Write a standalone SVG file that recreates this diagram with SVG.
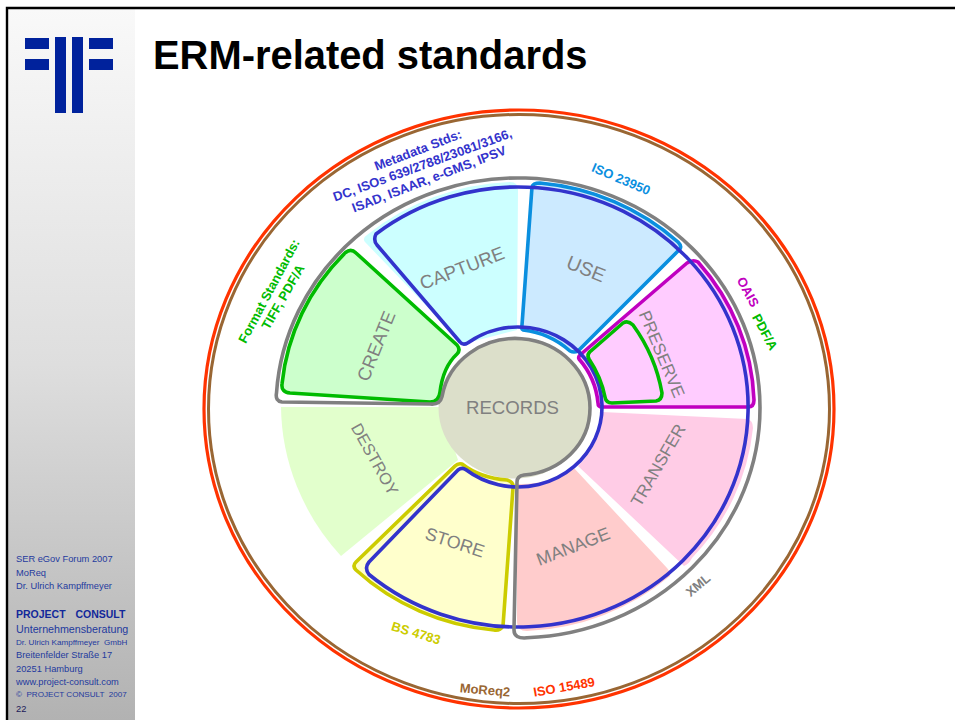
<svg xmlns="http://www.w3.org/2000/svg" width="955" height="720" viewBox="0 0 955 720">
<style>
text{font-family:"Liberation Sans",Arial,sans-serif}
.w{font-size:17.8px;fill:#808080;text-anchor:middle}
.b{font-size:13px;font-weight:bold;text-anchor:middle}
.s{font-size:9.3px;fill:#1f3a9e}
.o{fill:none;stroke-width:3.6;stroke-linejoin:round}
</style>
<defs><linearGradient id="g" x1="0" y1="0" x2="0" y2="1"><stop offset="0" stop-color="#f9f9f9"/><stop offset="0.5" stop-color="#dedede"/><stop offset="1" stop-color="#b2b2b2"/></linearGradient></defs>
<rect width="955" height="720" fill="#fff"/>
<g id="sidebar">
<rect x="8" y="9" width="127" height="711" fill="url(#g)"/>
<path d="M7,720V8H955" fill="none" stroke="#000" stroke-width="2.4"/>
<g fill="#00229c"><rect x="25" y="38" width="24" height="11"/><rect x="25" y="59" width="24" height="11"/><rect x="55" y="37" width="11" height="76"/><rect x="72" y="37" width="11" height="76"/><rect x="89" y="38" width="24" height="11"/><rect x="89" y="59" width="24" height="11"/></g>
<text class="s" x="16" y="562">SER eGov Forum 2007</text>
<text class="s" x="16" y="576">MoReq</text>
<text class="s" x="16" y="589">Dr. Ulrich Kampffmeyer</text>
<text class="s" x="16" y="618" style="font-weight:bold;font-size:10.5px;fill:#12289a;word-spacing:2px" xml:space="preserve">PROJECT  CONSULT</text>
<text class="s" x="16" y="633" style="font-size:10.7px">Unternehmensberatung</text>
<text class="s" x="16" y="645" style="font-size:8.1px" xml:space="preserve">Dr. Ulrich Kampffmeyer  GmbH</text>
<text class="s" x="16" y="658">Breitenfelder Straße 17</text>
<text class="s" x="16" y="672">20251 Hamburg</text>
<text class="s" x="16" y="685">www.project-consult.com</text>
<text class="s" x="16" y="697" style="font-size:8.1px" xml:space="preserve">©  PROJECT CONSULT  2007</text>
<text class="s" x="16" y="712" style="fill:#1a1a5a">22</text>
</g>
<text id="title" x="153" y="69" font-size="39.9" font-weight="bold" fill="#000">ERM-related standards</text>
<g id="rings" fill="none">
<ellipse cx="519" cy="409" rx="315" ry="299" stroke="#ff3300" stroke-width="3.2"/>
<ellipse cx="519" cy="409" rx="310.5" ry="294.5" stroke="#996633" stroke-width="3"/>
</g>
<g id="fills">
<path id="destroy" d="M281,407H440L458,460L341,556A242 230 0 0 1 281,407Z" fill="#e2ffcc"/>
<path id="create" d="M345.5,252.5Q351,248 356,253L457,345Q461,350 457,354Q443,367 440,392Q439,402 430,402L290,393Q281,392 282,384A231 220 0 0 1 345.5,252.5Z" fill="#ccffcc"/>
<path id="capture" d="M365,242Q362,238 367,235A236 225 0 0 1 510,182Q518,182 518,190L517,330L463,344Z" fill="#ccffff"/>
<path id="use" d="M532,187Q533,183 540,183A235 224.5 0 0 1 678,242Q682,246 680,249L578,351Q574,353 570,351A84 80 0 0 0 523,330Z" fill="#cceaff"/>
<path id="preserve" d="M580,355L687,263Q693,259 698,262A236 225 0 0 1 754,400Q754,407 748,407H602Q598,407 598,403A84 80 0 0 0 579,359Z" fill="#ffccff"/>
<path id="transfer" d="M602,412L747,419Q753,420 753,428A235 224 0 0 1 692,558Q689,564 684,566L578,466A84 80 0 0 0 602,412Z" fill="#ffcce6"/>
<path id="manage" d="M517,484A84 80 0 0 0 573,467L667,568Q671,572 670,576A233 223 0 0 1 527,631Q517,631 517,622Z" fill="#ffcccc"/>
<path id="store" d="M462,464Q480,478 507,480Q514,482 513,488L503,626Q500,631 494,630A231 220 0 0 1 356,570Q352,566 356,562L455,466Q458,463 462,464Z" fill="#ffffcc"/>
<ellipse id="disk" cx="514.5" cy="408" rx="76" ry="70.5" fill="#dcdfca"/>
</g>
<g id="outlines">
<path id="o-create" class="o" stroke="#00bb00" d="M345.5,252.5Q351,248 356,253L457,345Q461,350 457,354Q443,367 440,392Q439,402 430,402L290,393Q281,392 282,384A231 220 0 0 1 345.5,252.5Z"/>
<path id="o-store" class="o" stroke="#cccc00" d="M462,464Q480,478 507,480Q514,482 513,488L503,626Q500,631 494,630A231 220 0 0 1 356,570Q352,566 356,562L455,466Q458,463 462,464Z"/>
<path id="o-use" class="o" stroke="#0a8fdf" d="M532,187Q533,183 540,183A235 224.5 0 0 1 678,242Q682,246 680,249L578,351Q574,353 570,351A84 80 0 0 0 523,330Q521,329 522,325Z"/>
<path id="o-preserve" class="o" stroke="#c000c0" d="M580,355L687,263Q693,259 698,262A236 225 0 0 1 754,400Q754,407 748,407H602Q598,407 598,403A84 80 0 0 0 579,359Q578,357 580,355Z"/>
<path id="o-blue" class="o" stroke="#3333cc" d="M376,234A230 220 0 1 1 369,574.5Q364,568 369,562L458,470Q462,467 466,469.8A84 80 0 1 0 530,327.8A84 80 0 0 0 468,342.7Q463,346 460,342L377,245Q373,240 376,234Z"/>
<path id="o-preserve2" class="o" stroke="#00bb00" d="M623,323Q628,320 633,325A180 170 0 0 1 662,393Q662,400 656,401L612,403Q606,403 605,397Q601,377 589,359Q586,354 592,350Z"/>
<path id="o-gray" class="o" stroke="#808080" d="M276.5,393A242 230 0 1 1 527,637.8Q514,639 514,630L517,482Q517,476 524,475C560,472 590,445 590,408A74.5 69.5 0 0 0 442,396.6Q440,405 430,404L282,402Q275,401 276.5,393Z"/>
</g>
<g id="labels">
<text class="w" style="font-size:18.6px" transform="translate(512.5,414)">RECORDS</text>
<text class="w" style="font-size:18.6px" transform="translate(462,268) rotate(-21)" dy="6.5">CAPTURE</text>
<text class="w" style="font-size:19.5px" transform="translate(586,269) rotate(22)" dy="6.5">USE</text>
<text class="w" style="font-size:18.4px" transform="translate(376,346) rotate(-68)" dy="6.5">CREATE</text>
<text class="w" style="font-size:17px" transform="translate(662,354) rotate(67)" dy="6">PRESERVE</text>
<text class="w" style="font-size:17px" transform="translate(658,465) rotate(-60)" dy="6">TRANSFER</text>
<text class="w" transform="translate(573,546) rotate(-21)" dy="6.5">MANAGE</text>
<text class="w" transform="translate(455,542) rotate(18)" dy="6.5">STORE</text>
<text class="w" style="font-size:16.4px" transform="translate(375,459) rotate(61)" dy="6">DESTROY</text>
<g fill="#3333cc">
<text class="b" transform="translate(418,150) rotate(-21)" dy="4.5">Metadata Stds:</text>
<text class="b" transform="translate(422.5,165) rotate(-20)" dy="4.5">DC, ISOs 639/2788/23081/3166,</text>
<text class="b" transform="translate(429,179) rotate(-21)" dy="4.5">ISAD, ISAAR, e-GMS, IPSV</text>
</g>
<g fill="#00bb00">
<text class="b" transform="translate(269,291) rotate(-62)" dy="4.5">Format Standards:</text>
<text class="b" transform="translate(283,297) rotate(-60)" dy="4.5">TIFF, PDF/A</text>
<text class="b" transform="translate(765,332) rotate(62)" dy="4.5">PDF/A</text>
</g>
<text class="b" fill="#0a8fdf" transform="translate(621,179) rotate(23)" dy="4.5">ISO 23950</text>
<text class="b" fill="#c000c0" transform="translate(748,292) rotate(62)" dy="4.5">OAIS</text>
<text class="b" fill="#808080" transform="translate(698,585) rotate(-40)" dy="4.5">XML</text>
<text class="b" fill="#cccc00" transform="translate(416,633) rotate(17)" dy="4.5">BS 4783</text>
<text class="b" fill="#996633" transform="translate(485,690) rotate(5)" dy="4.5">MoReq2</text>
<text class="b" fill="#ff3300" transform="translate(564,687) rotate(-10)" dy="4.5">ISO 15489</text>
</g>
</svg>
